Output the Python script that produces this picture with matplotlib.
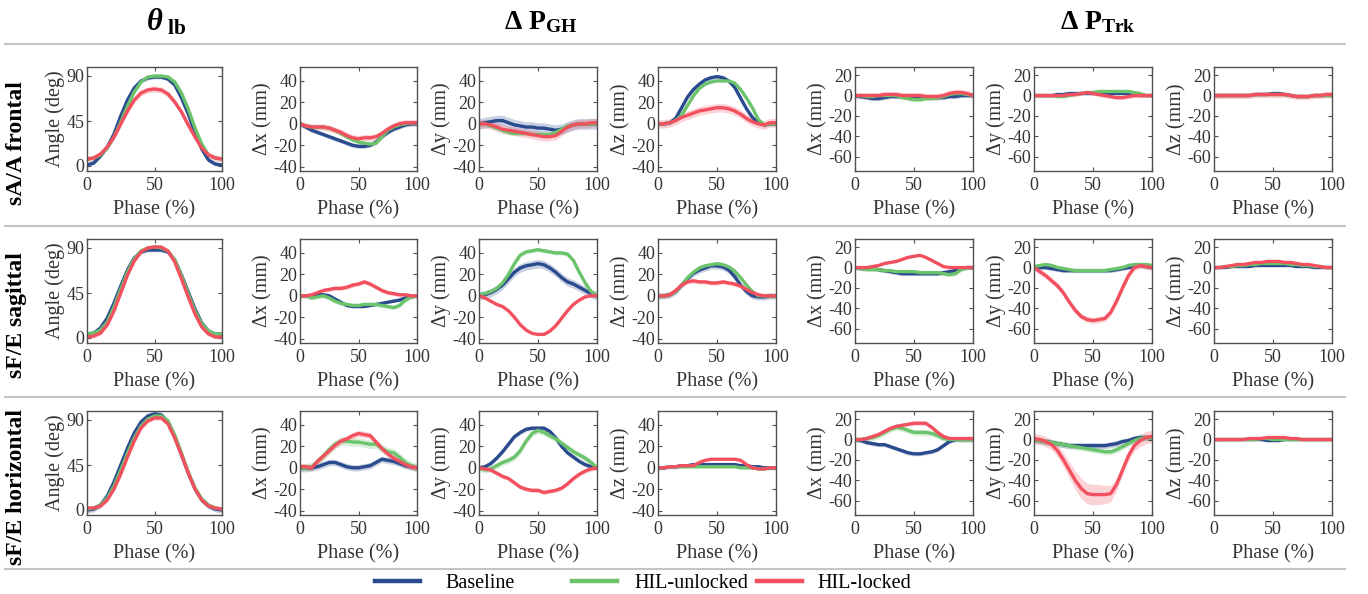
import matplotlib.pyplot as plt
from matplotlib.lines import Line2D
import numpy as np

plt.rcParams["font.family"] = ["Liberation Serif", "DejaVu Serif"]
plt.rcParams["axes.unicode_minus"] = False
plt.rcParams["mathtext.fontset"] = "custom"
plt.rcParams["mathtext.rm"] = "Liberation Serif"
plt.rcParams["mathtext.bf"] = "Liberation Serif:bold"
plt.rcParams["mathtext.it"] = "Liberation Serif:italic"
plt.rcParams["mathtext.bfit"] = "Liberation Serif:italic:bold"

# ---- data, phase 0..100 % in steps of 5 ----
phase = list(range(0, 101, 5))

# sA/A frontal
saa_theta_bl = [1, 3, 10, 19, 32, 50, 66, 78, 85, 88, 89, 89, 87, 81, 68, 52, 33, 17, 6, 2, 1]
saa_theta_un = [7, 8, 11, 18, 29, 44, 60, 74, 84, 89, 90, 90, 89, 84, 73, 57, 38, 22, 11, 8, 7]
saa_theta_lk = [7, 8, 12, 19, 29, 42, 55, 66, 73, 76, 77, 76, 72, 64, 54, 41, 29, 18, 11, 8, 7]
saa_ghx_bl = [0, -3, -6, -8, -10, -12, -14, -16, -18, -20, -21, -21, -20, -17, -12, -8, -5, -3, -1, 0, 0]
saa_ghx_un = [0, -2, -3, -3, -3, -4, -6, -9, -12, -15, -17, -18, -19, -18, -12, -6, -3, -1, 0, 1, 1]
saa_ghx_lk = [0, -2, -3, -3, -3, -4, -6, -8, -11, -13, -14, -13, -13, -12, -9, -5, -2, 0, 1, 1, 1]
saa_ghy_bl = [0, 1, 2, 3, 3, 1, -1, -2, -3, -3, -4, -4, -5, -6, -5, -3, -1, 0, 0, 0, 0]
saa_ghy_un = [0, 0, -2, -4, -6, -8, -9, -9, -9, -10, -10, -10, -10, -8, -5, -2, -1, 0, 0, 0, 0]
saa_ghy_lk = [0, 0, -1, -3, -5, -6, -7, -8, -9, -10, -11, -12, -12, -11, -7, -3, -1, 0, 0, 1, 1]
saa_ghz_bl = [0, 0, 1, 5, 15, 25, 32, 37, 41, 43, 44, 43, 40, 34, 24, 14, 6, 1, -1, 0, 0]
saa_ghz_un = [0, 0, 1, 3, 8, 17, 26, 33, 37, 39, 40, 40, 40, 38, 32, 24, 15, 4, -1, 0, 0]
saa_ghz_lk = [0, 0, 1, 3, 6, 8, 10, 12, 13, 14, 15, 15, 14, 12, 9, 5, 2, 0, -1, 1, 1]
saa_trkx_bl = [0, -1, -2, -3, -3, -2, -1, -1, -1, -1, -2, -2, -2, -2, -2, -2, -1, -1, 0, 0, 0]
saa_trkx_un = [0, 0, -1, -1, 0, 0, 0, 0, -2, -3, -4, -4, -3, -3, -2, -1, 1, 2, 2, 1, 0]
saa_trkx_lk = [0, 0, 0, 0, 0, 1, 1, 1, 0, 0, 0, 0, -1, -1, -1, 0, 2, 3, 3, 2, 0]
saa_trky_bl = [0, 0, 0, 0, 1, 1, 2, 2, 2, 2, 2, 2, 2, 2, 2, 2, 2, 1, 0, 0, 0]
saa_trky_un = [0, 0, 0, 0, -1, -1, 0, 1, 2, 3, 3, 4, 4, 4, 4, 4, 4, 3, 2, 0, 0]
saa_trky_lk = [0, 0, 0, 0, 0, 0, 1, 1, 2, 3, 2, 1, 0, -1, -2, -2, -1, 0, 0, 0, 0]
saa_trkz_bl = [0, 0, 0, 0, 0, 0, 0, 1, 1, 1, 2, 2, 1, 0, -1, -1, -1, 0, 0, 0, 0]
saa_trkz_un = [0, 0, 0, 0, 0, 0, 0, 1, 1, 1, 1, 1, 1, 0, -1, -1, -1, 0, 0, 0, 0]
saa_trkz_lk = [0, 0, 0, 0, 0, 0, 0, 1, 1, 1, 1, 1, 1, 0, -1, -1, -1, 0, 0, 1, 1]

# sF/E sagittal
sag_theta_bl = [4, 5, 10, 20, 35, 52, 68, 80, 86, 88, 88, 88, 86, 78, 63, 46, 29, 15, 7, 4, 4]
sag_theta_un = [4, 5, 8, 16, 31, 49, 66, 79, 87, 90, 91, 90, 87, 78, 62, 44, 27, 14, 7, 4, 4]
sag_theta_lk = [1, 2, 5, 13, 27, 45, 63, 77, 86, 90, 91, 91, 87, 76, 59, 41, 24, 11, 4, 1, 1]
sag_ghx_bl = [0, 0, 0, 1, 1, 0, -3, -6, -9, -10, -10, -10, -9, -8, -7, -6, -5, -4, -2, -1, 0]
sag_ghx_un = [0, 0, -2, -1, 0, -2, -5, -7, -8, -9, -9, -8, -8, -8, -9, -10, -11, -9, -4, -1, 0]
sag_ghx_lk = [0, 0, 1, 3, 5, 6, 7, 7, 8, 10, 11, 13, 11, 8, 5, 3, 2, 1, 1, 0, 0]
sag_ghy_bl = [0, 1, 3, 6, 10, 16, 22, 26, 28, 29, 30, 29, 26, 22, 17, 13, 11, 8, 5, 2, 0]
sag_ghy_un = [1, 2, 4, 7, 12, 20, 30, 38, 41, 42, 43, 42, 41, 40, 40, 39, 33, 22, 12, 4, 0]
sag_ghy_lk = [0, -2, -5, -8, -10, -14, -20, -27, -32, -35, -36, -36, -33, -28, -21, -14, -8, -4, -1, 0, 0]
sag_ghz_bl = [0, 0, 1, 4, 10, 16, 21, 24, 26, 28, 28, 27, 24, 18, 10, 4, 0, -1, -1, 0, 0]
sag_ghz_un = [0, 0, 1, 4, 10, 17, 22, 26, 28, 29, 30, 29, 27, 23, 17, 10, 4, 0, 0, 0, 0]
sag_ghz_lk = [0, 0, 1, 5, 10, 13, 14, 13, 13, 12, 12, 13, 12, 11, 9, 6, 3, 1, 0, 0, 0]
sag_trkx_bl = [0, -1, -1, -1, -2, -3, -4, -5, -6, -6, -6, -6, -6, -6, -6, -5, -4, -3, -1, 0, 0]
sag_trkx_un = [0, -1, -2, -2, -2, -3, -3, -4, -4, -4, -4, -5, -5, -5, -5, -6, -7, -6, -2, 0, 0]
sag_trkx_lk = [0, 0, 0, 1, 2, 4, 5, 6, 8, 10, 11, 12, 10, 7, 4, 1, 0, 0, 0, 0, 0]
sag_trky_bl = [0, 0, 0, -1, -2, -3, -3, -3, -3, -3, -3, -3, -3, -3, -2, -1, 0, 1, 2, 1, 0]
sag_trky_un = [1, 2, 3, 2, 0, -1, -2, -3, -3, -3, -3, -3, -3, -2, -1, 0, 2, 3, 3, 3, 2]
sag_trky_lk = [0, -4, -8, -13, -18, -25, -34, -42, -48, -51, -52, -51, -50, -44, -33, -20, -8, 0, 2, 1, 0]
sag_trkz_bl = [0, 0, 0, 1, 1, 1, 1, 2, 2, 2, 2, 2, 2, 2, 1, 1, 1, 0, 0, 0, 0]
sag_trkz_un = [0, 0, 1, 1, 2, 2, 3, 3, 4, 4, 4, 4, 4, 3, 3, 2, 2, 1, 1, 0, 0]
sag_trkz_lk = [0, 0, 1, 2, 3, 3, 4, 5, 5, 6, 6, 6, 5, 5, 4, 3, 3, 2, 1, 0, 0]

# sF/E horizontal
hor_theta_bl = [0, 1, 5, 14, 28, 45, 62, 77, 88, 94, 96, 95, 88, 73, 55, 37, 21, 10, 4, 1, 0]
hor_theta_un = [1, 2, 5, 12, 24, 40, 57, 72, 84, 91, 94, 94, 89, 75, 57, 38, 22, 11, 5, 2, 1]
hor_theta_lk = [2, 2, 4, 10, 21, 36, 53, 69, 82, 89, 92, 92, 86, 72, 55, 37, 21, 10, 4, 2, 1]
hor_ghx_bl = [0, 0, 0, 1, 3, 5, 5, 3, 1, 0, 0, 1, 2, 5, 8, 7, 6, 4, 2, 1, 0]
hor_ghx_un = [0, 0, 1, 6, 11, 17, 22, 25, 25, 24, 24, 23, 22, 22, 18, 15, 14, 10, 5, 2, 0]
hor_ghx_lk = [1, 1, 0, 6, 11, 16, 21, 25, 27, 30, 32, 31, 30, 24, 18, 13, 9, 6, 3, 1, 0]
hor_ghy_bl = [0, 1, 4, 9, 15, 22, 29, 33, 36, 37, 37, 37, 34, 28, 20, 14, 10, 6, 3, 1, 0]
hor_ghy_un = [0, -2, -1, 2, 5, 7, 10, 16, 25, 32, 35, 33, 30, 27, 23, 19, 15, 12, 9, 5, 0]
hor_ghy_lk = [0, -1, -2, -5, -8, -10, -14, -18, -20, -21, -21, -23, -22, -21, -19, -15, -10, -6, -3, -1, 0]
hor_ghz_bl = [0, 0, 1, 1, 2, 2, 3, 3, 3, 3, 3, 3, 3, 3, 2, 2, 1, 1, 0, 0, 0]
hor_ghz_un = [0, 0, 1, 1, 1, 1, 1, 1, 1, 1, 1, 1, 1, 1, 0, 0, 0, -1, -1, 0, 0]
hor_ghz_lk = [0, 0, 1, 1, 2, 2, 2, 5, 7, 8, 8, 8, 8, 8, 7, 3, 0, -1, -1, 0, 0]
hor_trkx_bl = [0, -1, -3, -4, -5, -5, -7, -9, -11, -13, -14, -14, -13, -12, -10, -6, -2, 0, 0, 0, 0]
hor_trkx_un = [0, 0, 1, 2, 4, 7, 10, 12, 11, 9, 7, 7, 7, 6, 4, 1, 0, 0, 0, 0, 0]
hor_trkx_lk = [0, 0, 1, 3, 5, 8, 11, 13, 14, 15, 16, 16, 16, 12, 7, 3, 1, 1, 1, 1, 1]
hor_trky_bl = [0, -1, -2, -3, -4, -5, -6, -6, -6, -6, -6, -6, -6, -5, -4, -2, -1, 1, 2, 2, 2]
hor_trky_un = [0, -1, -2, -3, -4, -5, -6, -7, -8, -9, -10, -11, -12, -12, -10, -7, -4, -1, 1, 2, 2]
hor_trky_lk = [1, 0, -2, -5, -11, -20, -30, -40, -48, -53, -54, -54, -54, -53, -44, -30, -16, -6, -1, 2, 3]
hor_trkz_bl = [0, 0, 0, 0, 0, 0, 0, 0, 0, -1, -1, -1, 0, 0, 0, 0, 0, 0, 0, 0, 0]
hor_trkz_un = [0, 0, 0, 0, 0, 0, 0, 0, 1, 1, 0, 0, 0, 0, 0, 0, 0, 0, 0, 0, 0]
hor_trkz_lk = [0, 0, 0, 0, 0, 0, 1, 1, 1, 2, 2, 2, 2, 1, 1, 0, 0, 0, 0, 0, 0]

# shaded band half-widths (baseline, unlocked, locked)
saa_sd = [(2, 2, 3), (2, 2, 3), (5, 2, 4), (2, 1, 4), (2, 2, 3), (1, 1, 2), (1, 1, 3)]
sag_sd = [(2, 2, 2), (1, 2, 2), (4, 2, 1), (3, 2, 2), (2, 2, 1), (2, 2, 3), (1, 1, 1)]
hor_trky_lk_sd = [5, 5, 5, 5, 6, 7, 8, 9, 10, 10, 10, 10, 9, 8, 6, 5, 5, 5, 6, 6, 6]
hor_sd = [(3, 2, 2), (3, 4, 3), (2, 3, 2), (2, 1, 1), (2, 3, 2), (3, 3, hor_trky_lk_sd), (1, 1, 1)]

series_names = ["Baseline", "HIL-unlocked", "HIL-locked"]
series_colors = ["#2B4B8F", "#6BC36B", "#F2505F"]
row_labels = ["sA/A frontal", "sF/E sagittal", "sF/E horizontal"]
y_labels = ["Angle (deg)", "Δx (mm)", "Δy (mm)", "Δz (mm)", "Δx (mm)", "Δy (mm)", "Δz (mm)"]

rows = [
    [(saa_theta_bl, saa_theta_un, saa_theta_lk), (saa_ghx_bl, saa_ghx_un, saa_ghx_lk),
     (saa_ghy_bl, saa_ghy_un, saa_ghy_lk), (saa_ghz_bl, saa_ghz_un, saa_ghz_lk),
     (saa_trkx_bl, saa_trkx_un, saa_trkx_lk), (saa_trky_bl, saa_trky_un, saa_trky_lk),
     (saa_trkz_bl, saa_trkz_un, saa_trkz_lk)],
    [(sag_theta_bl, sag_theta_un, sag_theta_lk), (sag_ghx_bl, sag_ghx_un, sag_ghx_lk),
     (sag_ghy_bl, sag_ghy_un, sag_ghy_lk), (sag_ghz_bl, sag_ghz_un, sag_ghz_lk),
     (sag_trkx_bl, sag_trkx_un, sag_trkx_lk), (sag_trky_bl, sag_trky_un, sag_trky_lk),
     (sag_trkz_bl, sag_trkz_un, sag_trkz_lk)],
    [(hor_theta_bl, hor_theta_un, hor_theta_lk), (hor_ghx_bl, hor_ghx_un, hor_ghx_lk),
     (hor_ghy_bl, hor_ghy_un, hor_ghy_lk), (hor_ghz_bl, hor_ghz_un, hor_ghz_lk),
     (hor_trkx_bl, hor_trkx_un, hor_trkx_lk), (hor_trky_bl, hor_trky_un, hor_trky_lk),
     (hor_trkz_bl, hor_trkz_un, hor_trkz_lk)],
]
row_sd = [saa_sd, sag_sd, hor_sd]

# ---- layout in pixels ----
W, H = 1368, 594
COL_LEFT = [87, 300, 479, 658, 855, 1034, 1214]
COL_W = [135, 117, 118, 118, 118, 118, 118]
ROW_TOP = [67, 239, 411]
AX_H = 104
SEP_Y = [44, 226, 397, 569]
LEG_X = [375, 572, 757]   # left edge of each legend line sample
FRAME = "#505050"
TXT = "#333333"

fig = plt.figure(figsize=(W / 100, H / 100), dpi=100)
x = np.array(phase)

for r, panels in enumerate(rows):
    for c, trio in enumerate(panels):
        ax = fig.add_axes([COL_LEFT[c] / W, 1 - (ROW_TOP[r] + AX_H) / H,
                           COL_W[c] / W, AX_H / H])
        for k, ys in enumerate(trio):
            ys = np.array(ys, dtype=float)
            sd = np.array(row_sd[r][c][k], dtype=float)
            ax.fill_between(x, ys - sd, ys + sd, color=series_colors[k],
                            alpha=0.25, linewidth=0)
            ax.plot(x, ys, color=series_colors[k], linewidth=2.4,
                    solid_capstyle="round", label=series_names[k])
        ax.set_xlim(0, 100)
        ax.set_xticks([0, 50, 100])
        if c == 0:
            ax.set_ylim(-5, 99)
            ax.set_yticks([0, 45, 90])
        elif c <= 3:
            ax.set_ylim(-44, 53)
            ax.set_yticks([-40, -20, 0, 20, 40])
        else:
            ax.set_ylim(-74, 28)
            ax.set_yticks([-60, -40, -20, 0, 20])
        ax.tick_params(direction="in", top=True, right=True, length=3,
                       width=0.8, color=FRAME, labelsize=13, labelcolor=TXT)
        ax.tick_params(axis="y", pad=2)
        ax.tick_params(axis="x", pad=4)
        for sp in ax.spines.values():
            sp.set_color(FRAME)
            sp.set_linewidth(1.0)
        ax.set_xlabel("Phase (%)", fontsize=14.5, color=TXT, labelpad=5)
        ax.set_ylabel(y_labels[c], fontsize=14.5, color=TXT, labelpad=1)

    yc = (ROW_TOP[r] + AX_H + 48) / 2 + ROW_TOP[r] / 2
    fig.text(17 / W, 1 - yc / H, row_labels[r], rotation=90, fontsize=17,
             fontweight="bold", ha="center", va="center")

# column headers
fig.text(166 / W, 1 - 22 / H, r"$\mathbfit{\theta}_{\ \mathbf{lb}}$",
         fontsize=22, ha="center", va="center")
fig.text(541 / W, 1 - 22 / H, r"$\mathbf{\Delta\ P}_{\mathbf{GH}}$",
         fontsize=20, ha="center", va="center")
fig.text(1098 / W, 1 - 22 / H, r"$\mathbf{\Delta\ P}_{\mathbf{Trk}}$",
         fontsize=20, ha="center", va="center")

# separator lines
for yy in SEP_Y:
    fig.add_artist(Line2D([5 / W, 1345 / W], [1 - yy / H, 1 - yy / H],
                          color="#c4c4c4", linewidth=1.5))

# legend: one entry per slot so the spacing follows the original
leg_pads = [1.25, 0.85, 0.75]
for k, name in enumerate(series_names):
    h = Line2D([], [], color=series_colors[k], linewidth=3.2)
    fig.legend([h], [name], loc="center left",
               bbox_to_anchor=(LEG_X[k] / W, 1 - 583 / H), frameon=False,
               fontsize=14.5, handlelength=2.24, handletextpad=leg_pads[k],
               borderaxespad=0, borderpad=0)

fig.savefig("out.png", dpi=100)
